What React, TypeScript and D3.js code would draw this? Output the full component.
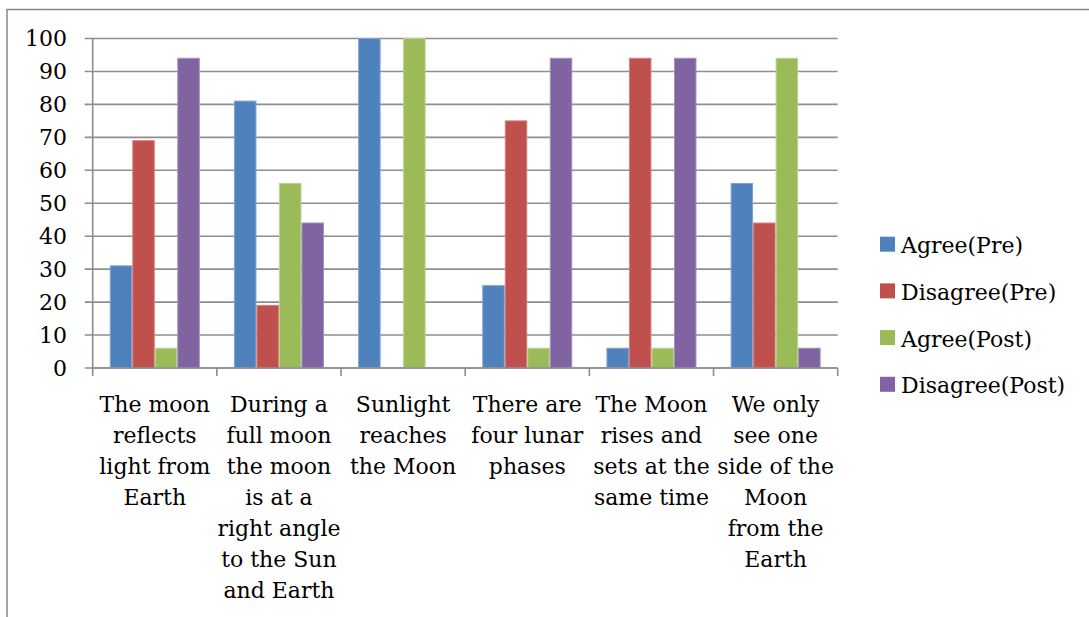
import React from "react";
import * as d3 from "d3";

const categories: string[][] = [
  ["The moon", "reflects", "light from", "Earth"],
  ["During a", "full moon", "the moon", "is at a", "right angle", "to the Sun", "and Earth"],
  ["Sunlight", "reaches", "the Moon"],
  ["There are", "four lunar", "phases"],
  ["The Moon", "rises and", "sets at the", "same time"],
  ["We only", "see one", "side of the", "Moon", "from the", "Earth"],
];
const seriesNames = ["Agree(Pre)", "Disagree(Pre)", "Agree(Post)", "Disagree(Post)"];
const agreePre = [31, 81, 100, 25, 6, 56];
const disagreePre = [69, 19, 0, 75, 94, 44];
const agreePost = [6, 56, 100, 6, 6, 94];
const disagreePost = [94, 44, 0, 94, 94, 6];
const yTicks = [0, 10, 20, 30, 40, 50, 60, 70, 80, 90, 100];
const colors = ["#4F81BD", "#C0504D", "#9BBB59", "#8064A2"];
const strokes = ["#7fa3d0", "#d4807d", "#bcd28f", "#a38fbd"];

const W = 1089;
const H = 617;
const FONT = "DejaVu Serif";
const FS = 22;

export default function App() {
  const series = [agreePre, disagreePre, agreePost, disagreePost];
  const left = 92.7;
  const right = 837.7;
  const top = 38.5;
  const bottom = 368;
  const x0 = d3
    .scaleBand<number>()
    .domain(d3.range(categories.length))
    .range([left, right])
    .paddingInner(0)
    .paddingOuter(0);
  const inner = 0.725;
  const bw = x0.bandwidth();
  const x1 = d3
    .scaleBand<number>()
    .domain(d3.range(series.length))
    .range([(bw * (1 - inner)) / 2, bw - (bw * (1 - inner)) / 2])
    .padding(0);
  const y = d3.scaleLinear().domain([0, 100]).range([bottom, top]);

  return (
    <svg
      width={W}
      height={H}
      style={{ position: "absolute", left: 0, top: 0, background: "#fff", fontFamily: FONT }}
    >
      <rect x={7} y={9.5} width={W + 10} height={H + 10} fill="#fff" stroke="#888" strokeWidth={1.5} />
      {yTicks.map((t) => (
        <g key={t}>
          <line x1={left - 8} x2={right} y1={y(t)} y2={y(t)} stroke="#8e8e8e" strokeWidth={1.6} />
          <text x={67} y={y(t)} dy="0.36em" textAnchor="end" fontSize={FS} fill="#000">
            {t}
          </text>
        </g>
      ))}
      <line x1={left} x2={left} y1={top} y2={bottom} stroke="#8e8e8e" strokeWidth={1.6} />
      {categories.map((_, i) => (
        <g key={i} transform={`translate(${x0(i)},0)`}>
          {series.map((s, j) =>
            s[i] > 0 ? (
              <rect
                key={j}
                x={x1(j)! + 0.5}
                y={y(s[i])}
                width={x1.bandwidth() - 1}
                height={y(0) - y(s[i])}
                fill={colors[j]}
                stroke={strokes[j]}
                strokeWidth={1}
              />
            ) : null
          )}
        </g>
      ))}
      <line x1={left} x2={right} y1={bottom} y2={bottom} stroke="#8e8e8e" strokeWidth={1.6} />
      {d3.range(categories.length + 1).map((i) => {
        const xx = left + bw * i;
        return <line key={i} x1={xx} x2={xx} y1={bottom} y2={bottom + 8} stroke="#8e8e8e" strokeWidth={1.6} />;
      })}
      {categories.map((lines, i) => (
        <text key={i} x={x0(i)! + bw / 2} textAnchor="middle" fontSize={FS} fill="#000">
          {lines.map((l, k) => (
            <tspan key={k} x={x0(i)! + bw / 2} y={411.5 + k * 31}>
              {l}
            </tspan>
          ))}
        </text>
      ))}
      {seriesNames.map((n, j) => (
        <g key={n} transform={`translate(880,${236.7 + j * 46.7})`}>
          <rect x={0} y={0} width={15} height={15} fill={colors[j]} />
          <text x={21} y={16.5} fontSize={FS} fill="#000">
            {n}
          </text>
        </g>
      ))}
    </svg>
  );
}
